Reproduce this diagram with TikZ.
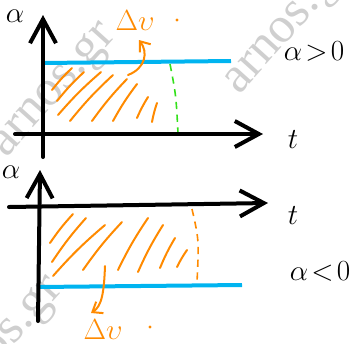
\documentclass[tikz,border=0pt]{standalone}
\usepackage{fontspec}
\usetikzlibrary{arrows.meta}
\newfontfamily\wmfont{Liberation Serif}
\definecolor{sBlue}{HTML}{00B4F0}
\definecolor{sOrange}{HTML}{FF8A00}
\definecolor{sGreen}{HTML}{33E01A}
\definecolor{sMark}{HTML}{CFCFCF}

\begin{document}
\begin{tikzpicture}[
  x=0.25mm, y=-0.25mm,
  axis/.style={line width=1mm, line cap=round,
               -{Straight Barb[length=6mm, width=6.5mm, line width=1mm]}},
  level/.style={sBlue, line width=1mm},
  hatch/.style={sOrange, line width=0.5mm, line cap=round},
  pointer/.style={sOrange, line width=0.5mm, line cap=round,
                  -{Straight Barb[length=2.2mm, width=3.4mm, line width=0.5mm]}},
  limit/.style={line width=0.4mm, dash pattern=on 1.8mm off 1.4mm},
  lbl/.style={inner sep=0pt, font=\huge},
  wmark/.style={sMark, inner sep=0pt, rotate=48, font=\wmfont\fontsize{36}{36}\selectfont},
]
  \useasboundingbox (0,0) rectangle (360,343);

  % Watermark
  \begin{scope}
    \clip (0,0) rectangle (360,343);
    \node[wmark] (wm1) at (56,92) {arnos.gr};
    \node[wmark] (wm2) at (289,29) {arnos.gr};
    \node[wmark] (wm3) at (3,346) {arnos.gr};
  \end{scope}

  % Top plot: alpha > 0
  \coordinate (aTopS) at (43,157);
  \coordinate (aTopE) at (43,15);
  \coordinate (tTopS) at (15,134);
  \coordinate (tTopE) at (263,134);
  \coordinate (vTopS) at (43,63);
  \coordinate (vTopE) at (231,61);

  \foreach \xa/\ya/\xb/\yb in {52/90/72/68, 57/101/84/72, 58/115/101/72, 70/121/113/75,
                               92/121/127/79, 113/121/137/84, 137/118/148/97, 152/122/157/103}
    \draw[hatch] (\xa,\ya) to[bend left=4] (\xb,\yb);

  \draw[limit, sGreen] (170,64) .. controls (176,95) .. (178,133);
  \draw[level] (vTopS) -- (vTopE);
  \draw[axis] (aTopS) -- (aTopE);
  \draw[axis] (tTopS) -- (tTopE);

  \node[lbl] (alphaTop) at (15,16) {$\alpha$};
  \node[lbl] (tTop) at (293,140) {$t$};
  \node[lbl] (signTop) at (314,51) {$\alpha\!>\!0$};
  \node[lbl, sOrange] (dvTop) at (135,21) {$\Delta\upsilon$};
  \fill[sOrange] (177,20) circle (0.4mm);
  \coordinate (areaTop) at (128,75);
  \draw[pointer] (areaTop) .. controls (146,68) and (148,52) .. (139,40);

  % Bottom plot: alpha < 0
  \coordinate (aBotS) at (38,321);
  \coordinate (aBotE) at (40,170);
  \coordinate (tBotS) at (9,207);
  \coordinate (tBotE) at (268,203);
  \coordinate (vBotS) at (37,287);
  \coordinate (vBotE) at (242,285);

  \foreach \xa/\ya/\xb/\yb in {50/243/73/214, 52/262/86/218, 53/276/105/225, 83/270/122/222,
                               118/270/148/218, 138/272/163/225, 160/268/175/238, 177/267/187/250}
    \draw[hatch] (\xa,\ya) to[bend left=4] (\xb,\yb);

  \draw[limit, sOrange] (192,209) .. controls (199,240) .. (197,282);
  \draw[level] (vBotS) -- (vBotE);
  \draw[axis] (aBotS) -- (aBotE);
  \draw[axis] (tBotS) -- (tBotE);

  \node[lbl] (alphaBot) at (11,172) {$\alpha$};
  \node[lbl] (tBot) at (293,216) {$t$};
  \node[lbl] (signBot) at (320,271) {$\alpha\!<\!0$};
  \node[lbl, sOrange] (dvBot) at (103,330) {$\Delta\upsilon$};
  \fill[sOrange] (150,327) circle (0.4mm);
  \coordinate (areaBot) at (105,266);
  \draw[pointer] (areaBot) .. controls (104,292) and (102,306) .. (91,313);
\end{tikzpicture}
\end{document}
